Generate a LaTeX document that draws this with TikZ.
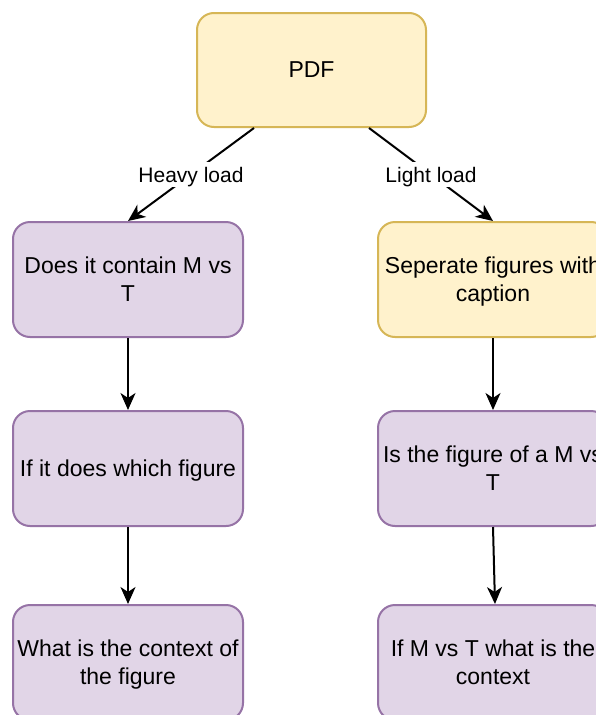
\documentclass[tikz,border=0pt]{standalone}
\usepackage{fontspec}
\setmainfont{Liberation Sans}
\usetikzlibrary{arrows.meta}
\definecolor{yelfill}{HTML}{FFF2CC}
\definecolor{yelline}{HTML}{D6B656}
\definecolor{purfill}{HTML}{E1D5E7}
\definecolor{purline}{HTML}{9673A6}
\tikzset{
  box/.style={rounded corners=17pt, line width=2pt, minimum width=230pt,
    minimum height=115pt, align=center, inner sep=0pt, text depth=-1pt,
    font=\fontsize{23}{28}\selectfont},
  yelbox/.style={box, fill=yelfill, draw=yelline},
  purbox/.style={box, fill=purfill, draw=purline},
  flow/.style={line width=2pt, -{Stealth[length=17pt, width=15pt, inset=5pt]}},
  edgelabel/.style={fill=white, inner xsep=1pt, inner ysep=5pt, text depth=0pt,
    font=\fontsize{21}{25}\selectfont}
}
\begin{document}
\begin{tikzpicture}[x=1pt, y=-1pt]
  \useasboundingbox (0,0) rectangle (596,715);
  \fill[white] (0,0) rectangle (596,715);

  % top source
  \node[yelbox, minimum width=229pt, minimum height=114pt] (pdf) at (311.5,70) {PDF};

  % heavy-load branch
  \node[purbox] (l1) at (128,279.5) {Does it contain M vs\\T};
  \node[purbox] (l2) at (128,468.5) {If it does which figure};
  \node[purbox] (l3) at (128,662.5) {What is the context of\\the figure};

  % light-load branch
  \node[yelbox] (r1) at (493,279.5) {Seperate figures with\\caption};
  \node[purbox] (r2) at (493,468.5) {Is the figure of a M vs\\T};
  \node[purbox] (r3) at (493,662.5) {If M vs T what is the\\context};

  % connectors
  \draw[flow] ([xshift=-57.5pt]pdf.south) -- node[edgelabel] (hl) {Heavy load} (l1.north);
  \draw[flow] ([xshift=57.5pt]pdf.south) -- node[edgelabel] (ll) {Light load} (r1.north);
  \draw[flow] (l1.south) -- (l2.north);
  \draw[flow] (l2.south) -- (l3.north);
  \draw[flow] (r1.south) -- (r2.north);
  \draw[flow] (r2.south) -- ([xshift=2pt]r3.north);
\end{tikzpicture}
\end{document}
